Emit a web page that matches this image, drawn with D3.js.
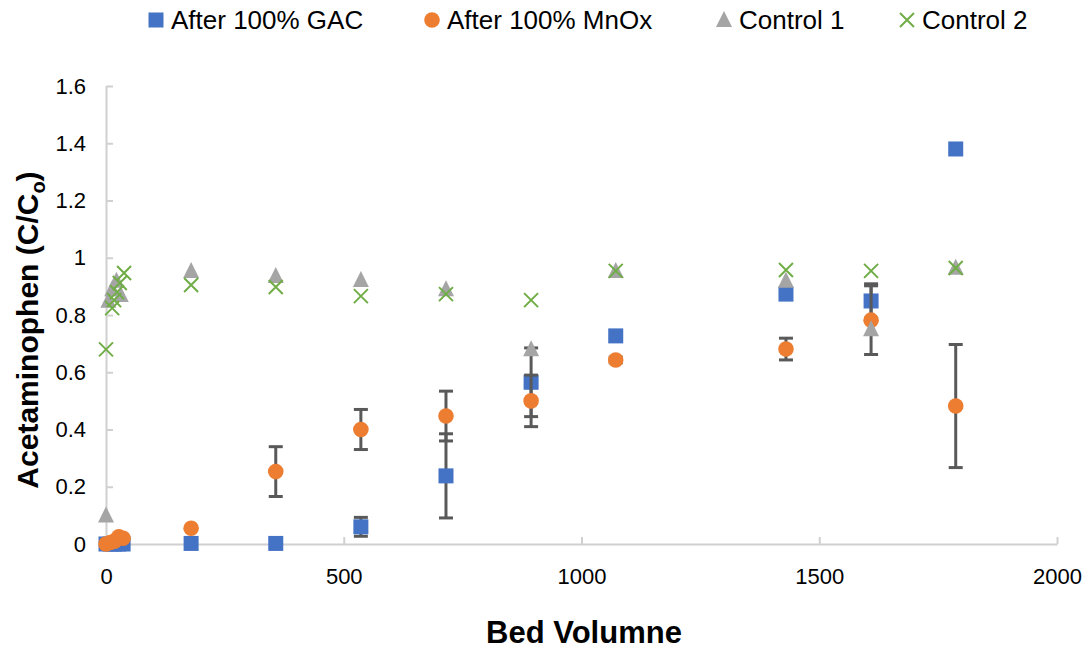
<!DOCTYPE html>
<html lang="en"><head>
<meta charset="utf-8">
<script src="https://d3js.org/d3.v7.min.js"></script>
<style>
  body { margin: 0; background: #fff; }
  text { font-family: "Liberation Sans", Arial, sans-serif; }
</style>
</head>
<body>
<div id="chart"></div>
<script>
// series data
const gacBV   = [0, 9, 18, 27, 36, 179, 357, 536, 715, 894, 1072, 1430, 1609, 1787];
const gacVal  = [0, 0, 0, 0, 0, 0.002, 0.002, 0.06, 0.238, 0.565, 0.727, 0.873, 0.849, 1.38];
const gacErr  = [0, 0, 0, 0, 0, 0, 0, 0.033, 0.147, 0.12, 0, 0, 0.06, 0];

const mnoxBV  = [0, 9, 18, 27, 36, 179, 357, 536, 715, 894, 1072, 1430, 1609, 1787];
const mnoxVal = [0, 0.005, 0.01, 0.025, 0.02, 0.055, 0.253, 0.40, 0.447, 0.50, 0.643, 0.681, 0.782, 0.482];
const mnoxErr = [0, 0, 0, 0, 0, 0, 0.087, 0.07, 0.087, 0.09, 0.01, 0.038, 0.12, 0.215];

const c1BV    = [0, 5, 13, 22, 31, 179, 357, 536, 715, 894, 1072, 1430, 1609, 1787];
const c1Val   = [0.10, 0.85, 0.89, 0.92, 0.87, 0.954, 0.936, 0.922, 0.89, 0.68, 0.954, 0.92, 0.75, 0.965];

const c2BV    = [0, 13, 17, 23, 29, 38, 179, 357, 536, 715, 894, 1072, 1430, 1609, 1787];
const c2Val   = [0.68, 0.824, 0.852, 0.88, 0.912, 0.947, 0.905, 0.898, 0.866, 0.873, 0.852, 0.954, 0.957, 0.954, 0.964];

const xTicks = [0, 500, 1000, 1500, 2000];
const yTicks = [0, 0.2, 0.4, 0.6, 0.8, 1, 1.2, 1.4, 1.6];

const W = 1089, H = 654;
const margin = {top: 86, right: 32, bottom: 110, left: 106};

const svg = d3.select("#chart").append("svg")
  .attr("width", W).attr("height", H);

const x = d3.scaleLinear().domain([0, 2000]).range([margin.left, W - margin.right]);
const y = d3.scaleLinear().domain([0, 1.6]).range([H - margin.bottom, margin.top]);

// axes (ticks point inward, like the Excel chart)
const xAxis = svg.append("g")
  .attr("transform", `translate(0,${y(0)})`)
  .call(d3.axisBottom(x).tickValues(xTicks).tickSizeInner(-7).tickSizeOuter(0).tickPadding(24).tickFormat(d3.format("d")));
const yAxis = svg.append("g")
  .attr("transform", `translate(${x(0)},0)`)
  .call(d3.axisLeft(y).tickValues(yTicks).tickSizeInner(-7).tickSizeOuter(0).tickPadding(20).tickFormat(d => d));
[xAxis, yAxis].forEach(a => {
  a.selectAll("path, line").attr("stroke", "#d0d0d0").attr("stroke-width", 2);
  a.selectAll("text").attr("font-size", 22).attr("fill", "#000")
   .style("font-family", "'Liberation Sans', Arial, sans-serif");
});

// axis titles
svg.append("text")
  .attr("x", 584).attr("y", 643)
  .attr("text-anchor", "middle").attr("font-size", 31).attr("font-weight", "bold")
  .text("Bed Volumne");
const yt = svg.append("text")
  .attr("transform", `translate(38,${330}) rotate(-90)`)
  .attr("text-anchor", "middle").attr("font-size", 30).attr("font-weight", "bold");
yt.append("tspan").text("Acetaminophen (C/C");
yt.append("tspan").attr("font-size", 20).attr("dy", 7).text("o");
yt.append("tspan").attr("dy", -7).text(")");

const colors = {gac: "#4472C4", mnox: "#ED7D31", c1: "#A5A5A5", c2: "#70AD47"};
const errColor = "#595959";

function drawErr(bv, val, err) {
  const d = bv.map((b, i) => ({b, v: val[i], e: err[i]})).filter(p => p.e > 0);
  const g = svg.append("g").attr("stroke", errColor).attr("stroke-width", 3);
  d.forEach(p => {
    g.append("line").attr("x1", x(p.b)).attr("x2", x(p.b)).attr("y1", y(p.v - p.e)).attr("y2", y(p.v + p.e));
    [p.v - p.e, p.v + p.e].forEach(t =>
      g.append("line").attr("x1", x(p.b) - 7).attr("x2", x(p.b) + 7).attr("y1", y(t)).attr("y2", y(t)));
  });
}

function marker(g, kind, cx, cy) {
  if (kind === "gac") {
    g.append("rect").attr("x", cx - 7.5).attr("y", cy - 7.5).attr("width", 15).attr("height", 15)
      .attr("fill", colors.gac);
  } else if (kind === "mnox") {
    g.append("circle").attr("cx", cx).attr("cy", cy).attr("r", 7.8).attr("fill", colors.mnox);
  } else if (kind === "c1") {
    g.append("path").attr("d", `M${cx},${cy - 9}L${cx + 8},${cy + 7}L${cx - 8},${cy + 7}Z`)
      .attr("fill", colors.c1);
  } else {
    g.append("path").attr("d", `M${cx - 7},${cy - 7}L${cx + 7},${cy + 7}M${cx + 7},${cy - 7}L${cx - 7},${cy + 7}`)
      .attr("stroke", colors.c2).attr("stroke-width", 2).attr("fill", "none");
  }
}

function drawSeries(kind, bv, val) {
  const g = svg.append("g");
  bv.forEach((b, i) => marker(g, kind, x(b), y(val[i])));
}

drawErr(gacBV, gacVal, gacErr);
drawSeries("gac", gacBV, gacVal);
drawErr(mnoxBV, mnoxVal, mnoxErr);
drawSeries("mnox", mnoxBV, mnoxVal);
drawSeries("c1", c1BV, c1Val);
drawSeries("c2", c2BV, c2Val);

// legend
const legend = [
  {kind: "gac", label: "After 100% GAC", x: 156},
  {kind: "mnox", label: "After 100% MnOx", x: 432},
  {kind: "c1", label: "Control 1", x: 724},
  {kind: "c2", label: "Control 2", x: 907}
];
const lg = svg.append("g");
legend.forEach(l => {
  marker(lg, l.kind, l.x, 20);
  lg.append("text").attr("x", l.x + 15).attr("y", 29).attr("font-size", 26).text(l.label);
});
</script>
</body>
</html>
